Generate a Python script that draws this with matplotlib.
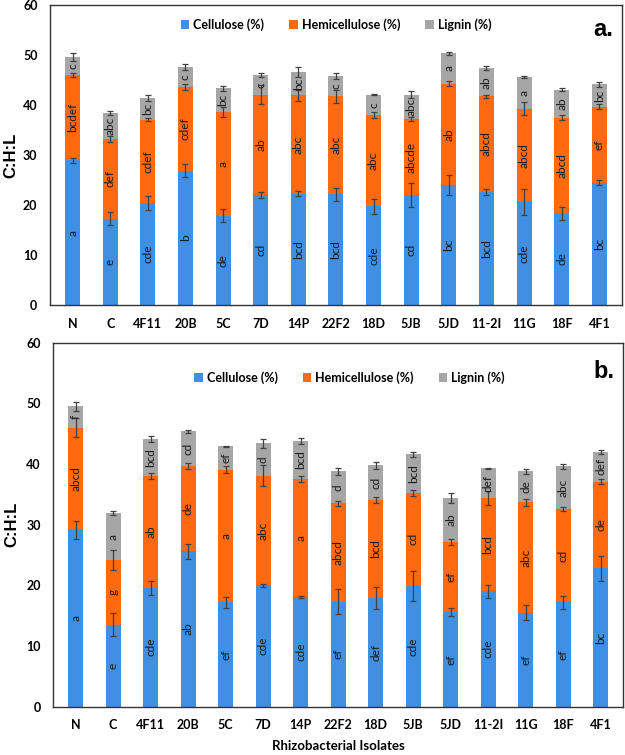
import numpy as np
import matplotlib
matplotlib.use('Agg')
import matplotlib.pyplot as plt

plt.rcParams.update({'font.family': ['Lato', 'DejaVu Sans'], 'font.size': 8})

isolates = ['N', 'C', '4F11', '20B', '5C', '7D', '14P', '22F2', '18D',
            '5JB', '5JD', '11-2I', '11G', '18F', '4F1']

# panel a (values are segment heights)
cel_a = [29.0, 17.3, 20.4, 26.9, 17.9, 22.0, 22.3, 22.2, 19.8, 22.0, 24.0, 22.7, 20.7, 18.4, 24.5]
hem_a = [17.0, 16.0, 16.7, 16.7, 20.8, 20.1, 19.7, 19.6, 18.3, 15.2, 20.3, 19.1, 18.6, 19.1, 15.2]
lig_a = [3.7, 5.1, 4.4, 4.1, 4.7, 3.9, 4.7, 4.0, 4.0, 4.9, 6.1, 5.6, 6.3, 5.6, 4.5]
cel_a_err = [0.5, 1.3, 1.4, 1.3, 1.3, 0.6, 0.5, 1.3, 1.5, 2.4, 2.0, 0.6, 2.6, 1.3, 0.5]
hem_a_err = [0.4, 0.6, 0.3, 0.6, 1.0, 1.9, 1.1, 1.3, 0.6, 0.4, 0.5, 0.3, 1.3, 0.5, 0.5]
lig_a_err = [0.8, 0.4, 0.6, 0.6, 0.5, 0.4, 1.0, 0.6, 0.1, 0.7, 0.3, 0.4, 0.2, 0.3, 0.5]
cel_a_lab = ['a', 'e', 'cde', 'b', 'de', 'cd', 'bcd', 'bcd', 'cde', 'cd', 'bc', 'bcd', 'cde', 'de', 'bc']
hem_a_lab = ['bcdef', 'def', 'cdef', 'cdef', 'a', 'ab', 'abc', 'abc', 'abc', 'abcde', 'ab', 'abcd', 'abcd', 'abcd', 'ef']
lig_a_lab = ['c', 'abc', 'bc', 'c', 'bc', 'c', 'bc', 'c', 'c', 'abc', 'a', 'ab', 'a', 'ab', 'bc']

# panel b
cel_b = [29.1, 13.5, 19.6, 25.6, 17.2, 20.0, 18.1, 17.3, 17.9, 19.9, 15.6, 19.0, 15.5, 17.2, 22.8]
hem_b = [16.9, 10.7, 18.5, 14.1, 21.9, 18.1, 19.5, 16.2, 16.2, 15.4, 11.6, 15.4, 18.2, 15.4, 14.3]
lig_b = [3.5, 7.7, 6.1, 5.7, 3.8, 5.3, 6.2, 5.3, 5.7, 6.3, 7.2, 4.9, 5.1, 7.0, 4.9]
cel_b_err = [1.5, 1.9, 1.2, 1.2, 0.9, 0.3, 0.1, 2.1, 1.8, 2.5, 0.6, 1.0, 1.2, 1.1, 2.0]
hem_b_err = [1.6, 1.7, 0.5, 0.5, 0.5, 1.7, 0.5, 0.4, 0.5, 0.5, 0.5, 1.1, 0.6, 0.4, 0.4]
lig_b_err = [0.7, 0.3, 0.5, 0.3, 0.1, 0.8, 0.5, 0.6, 0.6, 0.4, 0.8, 0.1, 0.4, 0.4, 0.3]
cel_b_lab = ['a', 'e', 'cde', 'ab', 'ef', 'cde', 'cde', 'ef', 'def', 'cde', 'ef', 'cde', 'ef', 'ef', 'bc']
hem_b_lab = ['abcd', 'g', 'ab', 'de', 'a', 'abc', 'a', 'abcd', 'bcd', 'cd', 'ef', 'bcd', 'abc', 'cd', 'de']
lig_b_lab = ['f', 'a', 'bcd', 'cd', 'ef', 'd', 'bcd', 'd', 'cd', 'bcd', 'ab', 'def', 'de', 'abc', 'def']

blue = '#3f8fe3'
orange = '#ff6a10'
grey = '#a6a6a6'


def draw_panel(ax, cel, hem, lig, errs, labs, tag, leg_xy, ylab_x):
    x = np.arange(len(isolates))
    cel = np.array(cel); hem = np.array(hem); lig = np.array(lig)
    w = 0.4
    ax.bar(x, cel, w, color=blue, label='Cellulose (%)')
    ax.bar(x, hem, w, bottom=cel, color=orange, label='Hemicellulose (%)')
    ax.bar(x, lig, w, bottom=cel + hem, color=grey, label='Lignin (%)')
    bottoms = [np.zeros(len(x)), cel, cel + hem]
    for seg, bot, err, lab in zip([cel, hem, lig], bottoms, errs, labs):
        ax.errorbar(x, bot + seg, yerr=err, fmt='none', ecolor='#404040',
                    elinewidth=0.9, capsize=2.5, capthick=0.9)
        for xi, b, s, t in zip(x, bot, seg, lab):
            ax.text(xi, b + s / 2, t, rotation=90, ha='center', va='center',
                    fontsize=8.5, color='#1a1a1a')
    ax.set_xlim(-0.6, len(x) - 0.4)
    ax.set_ylim(0, 60)
    ax.set_yticks(range(0, 61, 10))
    ax.set_xticks(x)
    ax.set_xticklabels(isolates, fontweight='bold', fontsize=9)
    for t in ax.get_yticklabels():
        t.set_fontweight('bold')
        t.set_fontsize(9)
    ax.tick_params(length=0, pad=9)
    ax.set_ylabel('C:H:L', fontsize=12, fontweight='bold', family='Liberation Sans')
    ax.yaxis.label.set_verticalalignment('center')
    ax.yaxis.set_label_coords(ylab_x, 0.5)
    for s in ax.spines.values():
        s.set_color('#333333')
        s.set_linewidth(1.0)
    ax.legend(loc='center', bbox_to_anchor=leg_xy, ncol=3, frameon=False,
              handlelength=0.7, handleheight=0.7, handletextpad=0.3,
              columnspacing=2.0, prop={'weight': 'bold', 'size': 9})
    ax.text(0.985, 0.92, tag, transform=ax.transAxes, ha='right', va='center',
            fontsize=17, fontweight='bold', family='Liberation Sans')


fig = plt.figure(figsize=(6.25, 7.55), dpi=100)
ax1 = fig.add_axes([0.08, 0.596, 0.915, 0.397])
ax2 = fig.add_axes([0.085, 0.064, 0.912, 0.482])

draw_panel(ax1, cel_a, hem_a, lig_a, [cel_a_err, hem_a_err, lig_a_err],
           [cel_a_lab, hem_a_lab, lig_a_lab], 'a.', (0.5, 0.935), -0.068)
draw_panel(ax2, cel_b, hem_b, lig_b, [cel_b_err, hem_b_err, lig_b_err],
           [cel_b_lab, hem_b_lab, lig_b_lab], 'b.', (0.52, 0.905), -0.073)
ax2.set_xlabel('Rhizobacterial Isolates', fontsize=9.5, fontweight='bold', labelpad=6)

fig.savefig('out.png', dpi=100)
